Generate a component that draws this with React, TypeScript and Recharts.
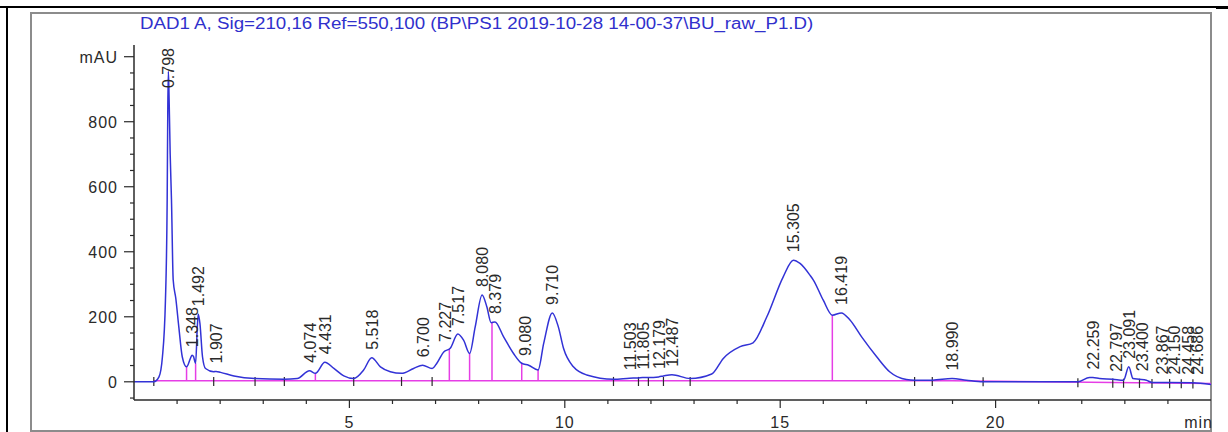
import { ComposedChart, Line, Scatter, XAxis, YAxis, ReferenceLine } from 'recharts'

// ─── chromatogram trace (min, mAU) ───────────────────────────────
const traceTime = [
  0, 0.46, 0.58, 0.66, 0.73, 0.77, 0.785, 0.798, 0.815, 0.84, 0.87, 0.91, 0.97, 1.04, 1.12, 1.22,
  1.31, 1.348, 1.38, 1.43, 1.47, 1.492, 1.53, 1.59, 1.66, 1.85, 1.907, 2.01, 2.32, 2.81, 3.49,
  3.79, 4.074, 4.21, 4.431, 4.64, 4.87, 5.1, 5.33, 5.518, 5.72, 5.95, 6.21, 6.49, 6.7, 6.92,
  7.03, 7.19, 7.34, 7.517, 7.65, 7.79, 7.92, 8.08, 8.19, 8.29, 8.379, 8.58, 8.81, 9.0, 9.16,
  9.38, 9.51, 9.71, 9.85, 9.97, 10.2, 10.51, 11.13, 11.503, 11.71, 11.805, 11.94, 12.179, 12.29,
  12.487, 12.91, 13.41, 13.68, 14.07, 14.37, 14.69, 15.07, 15.305, 15.46, 15.69, 15.77, 16.0,
  16.21, 16.419, 16.62, 16.89, 17.24, 17.54, 17.93, 18.12, 18.53, 18.99, 19.32, 19.71, 21.91,
  22.18, 22.259, 22.41, 22.72, 22.97, 23.091, 23.19, 23.34, 23.5, 23.63, 24.04, 24.58, 25,
]
const traceMau = [
  0, 0, 15, 77, 251, 560, 850, 955, 870, 700, 560, 313, 257, 169, 77, 46,
  72, 82, 78, 57, 170, 208, 180, 77, 41, 31, 32, 29, 18, 10, 8,
  10, 34, 26, 60, 41, 18, 10, 36, 74, 46, 31, 26, 41, 51, 41,
  57, 92, 103, 147, 128, 87, 169, 267, 231, 182, 184, 138, 87, 57, 51,
  36, 118, 212, 169, 103, 46, 21, 8, 11, 12, 13, 13, 15, 18,
  22, 10, 24, 72, 108, 120, 200, 323, 374, 364, 328, 313, 251,
  205, 212, 190, 138, 77, 31, 7, 5, 5, 10, 5, 0, 0,
  13, 13, 10, 8, 5, 46, 10, 8, 5, -2, -2, -3, -8,
]

// ─── integration baseline ────────────────────────────────────────
const baselineTime = [0.46, 19, 25]
const baselineMau = [3, 3, -5]

// ─── peak labels ─────────────────────────────────────────────────
const peakLabels = [
  '0.798', '1.348', '1.492', '1.907', '4.074', '4.431', '5.518', '6.700', '7.227', '7.517',
  '8.080', '8.379', '9.080', '9.710', '11.503', '11.805', '12.179', '12.487', '15.305', '16.419',
  '18.990', '22.259', '22.797', '23.091', '23.400', '23.867', '24.150', '24.458', '24.686',
]
const peakMau = [
  955, 82, 208, 32, 34, 60, 74, 51, 98, 147,
  267, 184, 55, 212, 11, 13, 15, 22, 374, 212,
  10, 13, 6, 46, 8, -2, -2, -3, -3,
]

// drop lines between fused peaks
const dropTimes = [1.22, 1.43, 4.21, 7.32, 7.79, 8.31, 9.0, 9.38, 16.21]
const dropMau = [46, 57, 26, 101, 87, 182, 57, 36, 205]

// peak start / stop marks
const eventTimes = [
  0.46, 1.85, 2.81, 3.49, 5.1, 6.21, 6.92, 11.13, 11.71, 11.94, 12.29, 12.91,
  18.12, 18.53, 19.71, 21.91, 22.72, 22.97, 23.34, 23.63, 24.04, 24.31, 24.58,
]

const xTicks = [1, 2, 3, 4, 5, 6, 7, 8, 9, 10, 11, 12, 13, 14, 15, 16, 17, 18, 19, 20, 21, 22, 23, 24, 25]
const xLabelTicks = [5, 10, 15, 20]
const yTicks = [-50, 0, 50, 100, 150, 200, 250, 300, 350, 400, 450, 500, 550, 600, 650, 700, 750, 800, 850, 900, 950, 1000]
const yLabelTicks = [0, 200, 400, 600, 800, 1000]

const TITLE = 'DAD1 A, Sig=210,16 Ref=550,100 (BP\\PS1 2019-10-28 14-00-37\\BU_raw_P1.D)'

const traceData = traceTime.map((t, i) => ({ t, v: traceMau[i] }))
const baselineData = baselineTime.map((t, i) => ({ t, v: baselineMau[i] }))
const peakData = peakLabels.map((label, i) => ({ t: parseFloat(label), v: peakMau[i], label }))

function baseAt(t: number) {
  for (let i = 1; i < baselineTime.length; i++) {
    if (t <= baselineTime[i]) {
      const a = baselineTime[i - 1], b = baselineTime[i]
      return baselineMau[i - 1] + (baselineMau[i] - baselineMau[i - 1]) * (t - a) / (b - a)
    }
  }
  return baselineMau[baselineMau.length - 1]
}

const FONT = '"Liberation Sans", Arial, sans-serif'
const TEXT = '#2a2a2a'
const BLUE = '#3232d6'
const MAGENTA = '#e63ee6'

function YTick({ x, y, payload }: any) {
  const v = payload.value
  const major = yLabelTicks.includes(v)
  return (
    <g>
      <line x1={x - (major ? 10 : 4)} x2={x} y1={y} y2={y} stroke={TEXT} strokeWidth={1.2} />
      {major && (
        <text x={x - 16} y={y} dy={6} textAnchor="end" fontSize={16} letterSpacing={1}
          fontFamily={FONT} fill={TEXT}>
          {v === 1000 ? 'mAU' : v}
        </text>
      )}
    </g>
  )
}

function XTick({ x, y, payload }: any) {
  const v = payload.value
  if (v === 25) {
    return (
      <text x={x + 2} y={y + 28} textAnchor="end" fontSize={16} letterSpacing={1}
        fontFamily={FONT} fill={TEXT}>min</text>
    )
  }
  const major = xLabelTicks.includes(v)
  return (
    <g>
      <line x1={x} x2={x} y1={y} y2={y + (major ? 8 : 4)} stroke={TEXT} strokeWidth={1.2} />
      {major && (
        <text x={x} y={y + 28} textAnchor="middle" fontSize={16} letterSpacing={1}
          fontFamily={FONT} fill={TEXT}>{v}</text>
      )}
    </g>
  )
}

function PeakLabel({ cx, cy, payload }: any) {
  const text: string = payload.label
  const w = 16 * (0.556 * (text.length - 1) + 0.278)
  const ay = Math.max(cy - 8, 48 + w)
  const ax = cx + 6
  return (
    <text x={ax} y={ay} transform={`rotate(-90 ${ax} ${ay})`} fontSize={16} fontFamily={FONT} fill={TEXT}>
      {text}
    </text>
  )
}

export default function App() {
  return (
    <div style={{ position: 'fixed', left: 0, top: 0, width: 1228, height: 432, background: '#fff', overflow: 'hidden' }}>
      {/* page frame */}
      <div style={{ position: 'absolute', left: 0, top: 6, width: 1228, height: 2, background: '#000' }} />
      <div style={{ position: 'absolute', left: 6, top: 6, width: 2, height: 426, background: '#000' }} />
      <div style={{ position: 'absolute', left: 1216, top: 6, width: 12, height: 3, background: '#000' }} />
      <div style={{ position: 'absolute', left: 30, top: 12, width: 1178, height: 416, border: '2px solid #8c8c8c' }} />

      <div style={{
        position: 'absolute', left: 140, top: 14, fontFamily: FONT, fontSize: 16, lineHeight: '20px',
        color: '#3030cc', whiteSpace: 'nowrap', transform: 'scaleX(1.17)', transformOrigin: 'left top',
      }}>
        {TITLE}
      </div>

      <div style={{ position: 'absolute', left: 0, top: 0 }}>
        <ComposedChart width={1228} height={432} margin={{ top: 45, right: 17, bottom: 0, left: 0 }}>
          <XAxis
            type="number" dataKey="t" domain={[0, 25]} allowDataOverflow
            ticks={xTicks} interval={0} height={32} tickSize={0} tickMargin={0}
            tick={<XTick />} axisLine={{ stroke: TEXT, strokeWidth: 1.5 }}
          />
          <YAxis
            type="number" domain={[-56, 1036]} allowDataOverflow
            ticks={yTicks} interval={0} width={134} tickSize={0} tickMargin={0}
            tick={<YTick />} axisLine={{ stroke: TEXT, strokeWidth: 1.5 }}
          />
          <Line data={baselineData} dataKey="v" type="linear" stroke={MAGENTA} strokeWidth={1.5}
            dot={false} activeDot={false} isAnimationActive={false} />
          {dropTimes.map((t, i) => (
            <ReferenceLine key={'d' + i} segment={[{ x: t, y: baseAt(t) }, { x: t, y: dropMau[i] }]}
              stroke={MAGENTA} strokeWidth={1.5} />
          ))}
          {eventTimes.map((t, i) => (
            <ReferenceLine key={'e' + i} segment={[{ x: t, y: baseAt(t) - 16 }, { x: t, y: baseAt(t) + 12 }]}
              stroke={TEXT} strokeWidth={1.2} />
          ))}
          <Line data={traceData} dataKey="v" type="monotone" stroke={BLUE} strokeWidth={1.5}
            dot={false} activeDot={false} isAnimationActive={false} />
          <Scatter data={peakData} dataKey="v" shape={<PeakLabel />} isAnimationActive={false} />
        </ComposedChart>
      </div>
    </div>
  )
}
